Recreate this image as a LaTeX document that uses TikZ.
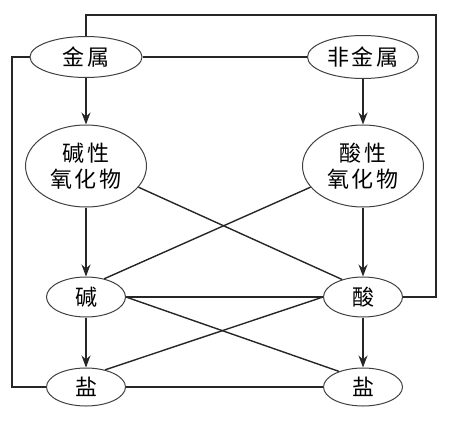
\documentclass[tikz,border=0pt]{standalone}
\usepackage{fontspec}
\newfontfamily\cjk[LetterSpace=12]{Noto Sans CJK SC}
\usetikzlibrary{arrows.meta, shapes.geometric}

\begin{document}
\begin{tikzpicture}[
    x=1pt, y=-1pt,
    every node/.style={font=\cjk\fontsize{22}{26}\selectfont},
    enode/.style={draw=black!75, line width=1pt, ellipse, inner sep=0pt,
                  minimum width=79pt, minimum height=40pt},
    onode/.style={enode, minimum width=121pt, minimum height=82pt, align=center},
    ln/.style={draw=black!85, line width=1.4pt},
    arr/.style={ln, -{Stealth[length=12pt, width=9pt]}}
]
\useasboundingbox (0,0) rectangle (449,420);
% Metals and non-metals on top
\node[enode, minimum width=112pt, minimum height=41pt] (M) at (86,57) {金属};
\node[enode, minimum width=111pt, minimum height=43pt] (N) at (363,57) {非金属};
% Oxides
\node[onode] (BO) at (86,166) {碱性\\氧化物};
\node[onode] (AO) at (363,166) {酸性\\氧化物};
% Base and acid
\node[enode] (B) at (86,297) {碱};
\node[enode] (A) at (363,297) {酸};
% Salts at bottom
\node[enode, minimum height=38pt] (SL) at (86,387) {盐};
\node[enode, minimum height=38pt] (SR) at (363,387) {盐};
% Corners of the outer connectors
\coordinate (TR) at (436,15);
\coordinate (BL) at (12,387);
% Downward arrows
\draw[arr] (M) -- (BO);
\draw[arr] (BO) -- (B);
\draw[arr] (B) -- (SL);
\draw[arr] (N) -- (AO);
\draw[arr] (AO) -- (A);
\draw[arr] (A) -- (SR);
% Plain connectors
\draw[ln] (M.east) -- (N.west);
\draw[ln] (M.north) |- (TR) |- (A.east);
\draw[ln] (M.west) -| (BL) -- (SL.west);
\draw[ln] (BO.-22) -- (A.140);
\draw[ln] (AO.202) -- (B.45);
\draw[ln] (B.east) -- (A.west);
\draw[ln] (B.east) -- (SR.147);
\draw[ln] (A.west) -- (SL.42);
\draw[ln] (SL.east) -- (SR.west);
\end{tikzpicture}
\end{document}
